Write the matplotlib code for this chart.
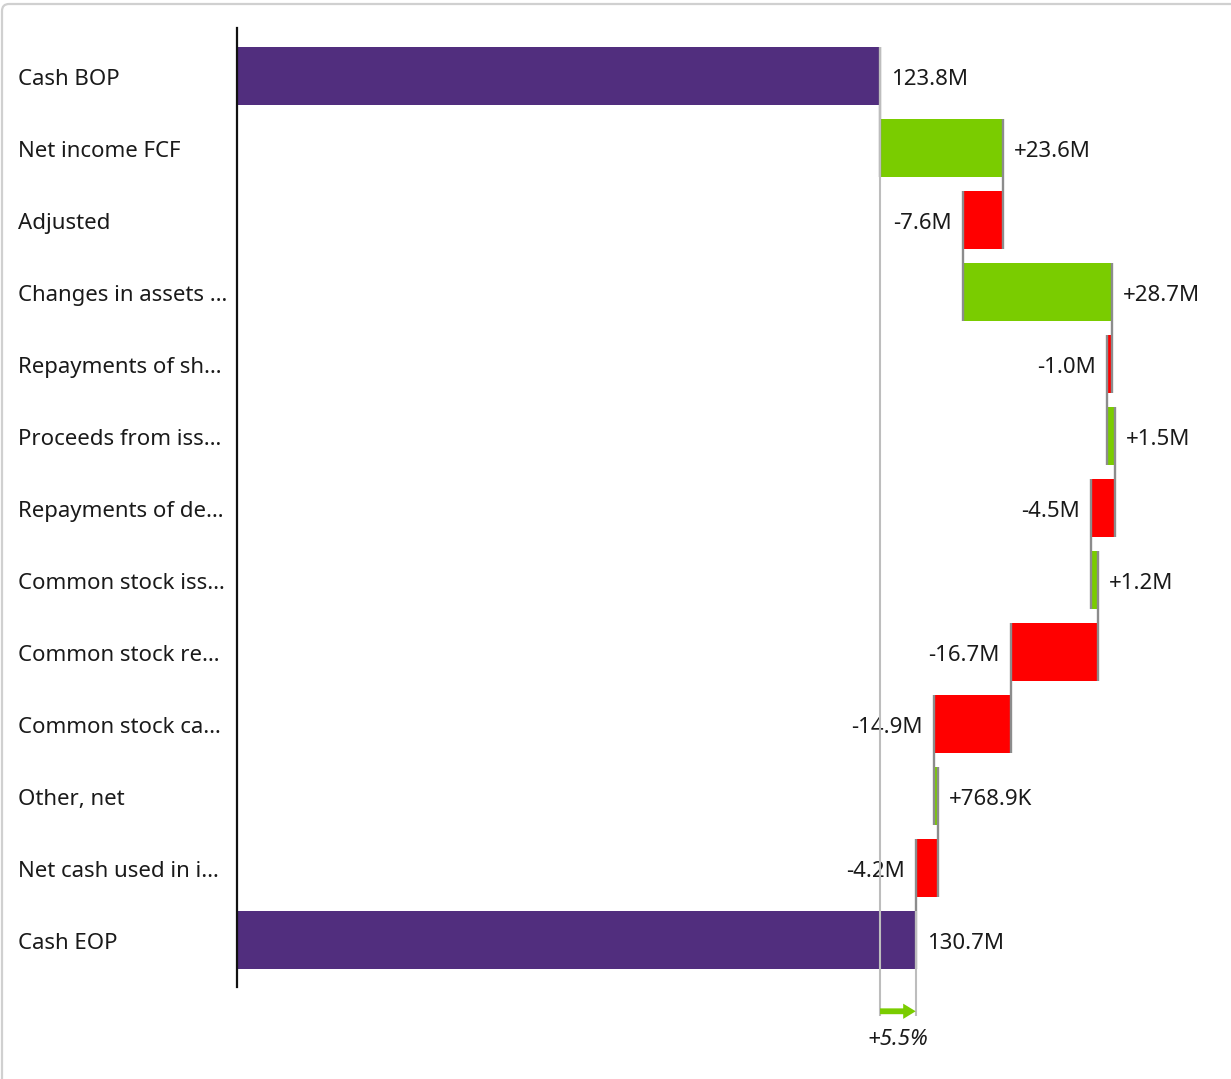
import matplotlib.pyplot as plt
from matplotlib.patches import FancyBboxPatch, FancyArrowPatch
from matplotlib.transforms import blended_transform_factory, offset_copy

# waterfall data (values in millions)
categories = ["Cash BOP", "Net income FCF", "Adjusted", "Changes in assets …",
              "Repayments of sh…", "Proceeds from iss…", "Repayments of de…",
              "Common stock iss…", "Common stock re…", "Common stock ca…",
              "Other, net", "Net cash used in i…", "Cash EOP"]
start_value = 123.8
deltas = [23.6, -7.6, 28.7, -1.0, 1.5, -4.5, 1.2, -16.7, -14.9, 0.7689, -4.2]

purple = "#512E7E"
green = "#7ACC00"
red = "#FF0000"
conn = "#8C8C8C"
ref_gray = "#BDBDBD"

plt.rcParams['font.family'] = ['Noto Sans', 'DejaVu Sans']


def fmt(v, sign=False):
    s = "+" if (sign and v > 0) else ("-" if v < 0 else "")
    a = abs(v)
    if a < 1:
        return f"{s}{a * 1000:.1f}K"
    return f"{s}{a:.1f}M"


# cumulative positions
cum = [start_value]
for d in deltas:
    cum.append(cum[-1] + d)
end_value = cum[-1]

fig = plt.figure(figsize=(12.31, 10.79), dpi=100)
ax = fig.add_axes([237 / 1231, 1 - 987 / 1079, 1 - 237 / 1231, (987 - 28) / 1079])

h = 0.8
n = len(categories)
fs = 16
dy = -2.2  # text sits a little below bar centre

# totals
ax.barh(0, start_value, height=h, color=purple, zorder=2)
ax.barh(n - 1, end_value, height=h, color=purple, zorder=2)
ax.annotate(fmt(start_value), (start_value, 0), xytext=(8, dy), textcoords='offset points',
            ha='left', va='center', fontsize=fs, color='#1a1a1a')
ax.annotate(fmt(end_value), (end_value, n - 1), xytext=(8, dy), textcoords='offset points',
            ha='left', va='center', fontsize=fs, color='#1a1a1a')

# deltas
for i, d in enumerate(deltas):
    y = i + 1
    left = min(cum[i], cum[i + 1])
    ax.barh(y, abs(d), left=left, height=h, color=green if d > 0 else red, zorder=2)
    if d > 0:
        ax.annotate(fmt(d, True), (cum[i + 1], y), xytext=(8, dy), textcoords='offset points',
                    ha='left', va='center', fontsize=fs, color='#1a1a1a')
    else:
        ax.annotate(fmt(d, True), (cum[i + 1], y), xytext=(-8, dy), textcoords='offset points',
                    ha='right', va='center', fontsize=fs, color='#1a1a1a')

# connectors
for i in range(n - 1):
    ax.plot([cum[i], cum[i]], [i - h / 2, i + 1 + h / 2], color=conn, lw=1.7, zorder=3,
            solid_capstyle='butt')

# reference lines + difference arrow
y_arrow = 12.99
ax.plot([start_value, start_value], [-h / 2, 13.05], color=ref_gray, lw=1.5, zorder=4,
        clip_on=False, solid_capstyle='butt')
ax.plot([end_value, end_value], [n - 1 - h / 2, 13.05], color=ref_gray, lw=1.5, zorder=4,
        clip_on=False, solid_capstyle='butt')
arr = FancyArrowPatch((start_value, y_arrow), (end_value, y_arrow),
                      arrowstyle='simple,head_width=11,head_length=9,tail_width=4.2',
                      color=green, lw=0, shrinkA=0, shrinkB=0, clip_on=False, zorder=5,
                      mutation_scale=1)
ax.add_patch(arr)
pct = (end_value / start_value - 1) * 100
ax.text((start_value + end_value) / 2, 13.38, f"+{pct:.1f}%", ha='center', va='center',
        fontsize=fs, style='italic', color='#1a1a1a', clip_on=False)

# category labels
tr = offset_copy(blended_transform_factory(fig.transFigure, ax.transData), fig=fig,
                 x=0, y=dy, units='points')
for i, c in enumerate(categories):
    ax.text(18 / 1231, i, c, transform=tr, ha='left', va='center', fontsize=fs, color='#1a1a1a')

ax.set_xlim(0, (1231 - 237) / 5.194)
ax.set_ylim(12 + 47 / 72, -48 / 72)
for s in ['top', 'right', 'bottom']:
    ax.spines[s].set_visible(False)
ax.spines['left'].set_linewidth(1.6)
ax.spines['left'].set_color('#111111')
ax.set_xticks([])
ax.set_yticks([])
ax.patch.set_alpha(0)

# light rounded border (only top and left edges fall inside the image)
border = FancyBboxPatch((0.02, -1.0), 13.0, 11.75,
                        boxstyle='round,pad=0,rounding_size=0.07',
                        transform=fig.dpi_scale_trans, fill=False,
                        edgecolor='#D0D0D0', lw=1.6)
fig.patches.append(border)

fig.savefig("out.png", dpi=100)
